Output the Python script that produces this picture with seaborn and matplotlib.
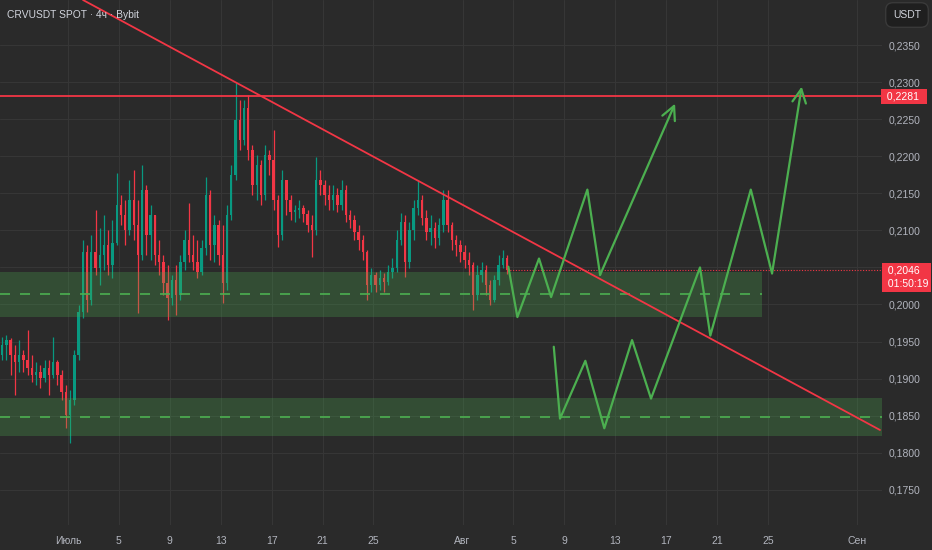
import numpy as np
import pandas as pd
import matplotlib
matplotlib.use('Agg')
import matplotlib.pyplot as plt
import seaborn as sns

# свечи 8ч, значения (CRVUSDT, Bybit)
first_open = 0.1932
closes = [0.1945, 0.1952, 0.1932, 0.1922, 0.1932, 0.1925, 0.1914, 0.1905, 0.1909, 0.1901,
          0.1914, 0.1905, 0.1922, 0.1905, 0.1882, 0.1851, 0.1871, 0.1932, 0.1990, 0.2071,
          0.2006, 0.2071, 0.2049, 0.2067, 0.2080, 0.2053, 0.2083, 0.2134, 0.2121, 0.2100,
          0.2141, 0.2107, 0.2067, 0.2154, 0.2094, 0.2121, 0.2067, 0.2057, 0.2029, 0.2009,
          0.2033, 0.2013, 0.2057, 0.2087, 0.2067, 0.2057, 0.2044, 0.2076, 0.2148, 0.2080,
          0.2107, 0.2067, 0.2029, 0.2121, 0.2175, 0.2249, 0.2222, 0.2265, 0.2208, 0.2161,
          0.2188, 0.2148, 0.2202, 0.2195, 0.2141, 0.2094, 0.2168, 0.2141, 0.2125, 0.2127,
          0.2130, 0.2122, 0.2107, 0.2100, 0.2168, 0.2161, 0.2148, 0.2141, 0.2148, 0.2134,
          0.2154, 0.2121, 0.2114, 0.2098, 0.2087, 0.2071, 0.2026, 0.2040, 0.2026, 0.2036,
          0.2031, 0.2044, 0.2049, 0.2087, 0.2111, 0.2057, 0.2100, 0.2130, 0.2141, 0.2117,
          0.2098, 0.2103, 0.2090, 0.2107, 0.2141, 0.2107, 0.2087, 0.2080, 0.2071, 0.2060,
          0.2053, 0.2013, 0.2040, 0.2047, 0.2026, 0.2006, 0.2033, 0.2053, 0.2063, 0.2046]
highs = [0.1956, 0.1959, 0.1955, 0.1945, 0.1952, 0.1939, 0.1966, 0.1932, 0.1922, 0.1918,
         0.1925, 0.1925, 0.1956, 0.1925, 0.1912, 0.1892, 0.1885, 0.1939, 0.1999, 0.2087,
         0.2080, 0.2094, 0.2127, 0.2103, 0.2121, 0.2100, 0.2114, 0.2177, 0.2148, 0.2141,
         0.2168, 0.2181, 0.2141, 0.2188, 0.2161, 0.2134, 0.2107, 0.2087, 0.2067, 0.2053,
         0.2040, 0.2053, 0.2067, 0.2100, 0.2137, 0.2094, 0.2087, 0.2087, 0.2172, 0.2154,
         0.2121, 0.2114, 0.2107, 0.2134, 0.2188, 0.2299, 0.2276, 0.2276, 0.2283, 0.2215,
         0.2202, 0.2195, 0.2215, 0.2208, 0.2235, 0.2148, 0.2181, 0.2161, 0.2148, 0.2134,
         0.2141, 0.2134, 0.2127, 0.2121, 0.2199, 0.2181, 0.2168, 0.2161, 0.2161, 0.2157,
         0.2168, 0.2161, 0.2127, 0.2121, 0.2107, 0.2094, 0.2074, 0.2049, 0.2044, 0.2047,
         0.2043, 0.2053, 0.2063, 0.2100, 0.2123, 0.2121, 0.2111, 0.2141, 0.2168, 0.2148,
         0.2127, 0.2121, 0.2111, 0.2117, 0.2154, 0.2154, 0.2111, 0.2094, 0.2087, 0.2080,
         0.2071, 0.2057, 0.2053, 0.2057, 0.2053, 0.2033, 0.2040, 0.2067, 0.2074, 0.2067]
lows = [0.1925, 0.1925, 0.1905, 0.1878, 0.1909, 0.1909, 0.1905, 0.1896, 0.1892, 0.1888,
        0.1896, 0.1878, 0.1901, 0.1892, 0.1871, 0.1833, 0.1813, 0.1865, 0.1925, 0.1982,
        0.1990, 0.1999, 0.2040, 0.2026, 0.2047, 0.2040, 0.2036, 0.2080, 0.2107, 0.2080,
        0.2094, 0.2087, 0.1989, 0.2060, 0.2067, 0.2060, 0.2053, 0.2040, 0.2013, 0.1979,
        0.1999, 0.1986, 0.2006, 0.2047, 0.2057, 0.2047, 0.2036, 0.2040, 0.2067, 0.2060,
        0.2057, 0.2053, 0.2002, 0.2020, 0.2114, 0.2168, 0.2208, 0.2215, 0.2195, 0.2148,
        0.2141, 0.2134, 0.2141, 0.2175, 0.2127, 0.2078, 0.2087, 0.2121, 0.2114, 0.2111,
        0.2117, 0.2111, 0.2098, 0.2064, 0.2094, 0.2148, 0.2134, 0.2127, 0.2127, 0.2125,
        0.2127, 0.2111, 0.2103, 0.2087, 0.2074, 0.2060, 0.2006, 0.2017, 0.2017, 0.2020,
        0.2017, 0.2026, 0.2036, 0.2044, 0.2080, 0.2037, 0.2049, 0.2087, 0.2121, 0.2107,
        0.2087, 0.2080, 0.2076, 0.2080, 0.2098, 0.2098, 0.2074, 0.2066, 0.2057, 0.2049,
        0.2040, 0.1993, 0.2006, 0.2031, 0.2013, 0.1999, 0.2003, 0.2026, 0.2049, 0.2041]
start_day = -5.17        # дни от 1 июля
candle_step = 1 / 3      # 8 часов

tick_days = [0, 4, 8, 12, 16, 20, 24, 31, 35, 39, 43, 47, 51, 55, 62]
tick_labels = ['Июль', '5', '9', '13', '17', '21', '25', 'Авг', '5', '9', '13', '17', '21', '25', 'Сен']
price_ticks = [0.1750, 0.1800, 0.1850, 0.1900, 0.1950, 0.2000, 0.2050,
               0.2100, 0.2150, 0.2200, 0.2250, 0.2300, 0.2350]

resistance = 0.2281
last_price = 0.2046
timer = '01:50:19'

trend_days = [1.18, 63.8]
trend_prices = [0.24108, 0.18307]

zone_up = [0.19835, 0.20443]
zone_up_mid = 0.20138
zone_up_end = 54.5
zone_low = [0.18226, 0.18743]
zone_low_mid = 0.18486

path_a_days = [34.60, 35.31, 37.01, 37.96, 40.81, 41.81, 47.70]
path_a_prices = [0.2051, 0.1983, 0.2062, 0.2010, 0.2155, 0.2040, 0.2271]
path_b_days = [38.17, 38.66, 40.65, 42.14, 44.32, 45.81, 49.66, 50.47, 53.65, 55.32, 57.65]
path_b_prices = [0.1943, 0.1846, 0.1924, 0.1833, 0.1952, 0.1873, 0.2050, 0.1958, 0.2155, 0.2042, 0.2294]

bg = '#2a2a2a'
grid_c = '#363636'
up_c = '#089981'
down_c = '#f23645'
green = '#4caf50'
text_c = '#b2b5be'

sns.set_theme(style='dark', rc={'axes.facecolor': bg, 'figure.facecolor': bg})
plt.rcParams['font.family'] = ['Liberation Sans', 'DejaVu Sans']

fig = plt.figure(figsize=(9.32, 5.5), dpi=100)
ax = fig.add_axes([0, 25 / 550, 882 / 932, 525 / 550])
ax.set_xlim(-5.343, 63.96)
ax.set_ylim(0.17025, 0.24108)

for d in tick_days:
    ax.axvline(d, color=grid_c, lw=0.8, zorder=0)
for p in price_ticks:
    ax.axhline(p, color=grid_c, lw=0.8, zorder=0)

df = pd.DataFrame({'close': closes, 'high': highs, 'low': lows})
df['open'] = [first_open] + closes[:-1]
df['day'] = start_day + np.arange(len(df)) * candle_step
df['up'] = df['close'] >= df['open']
df['color'] = np.where(df['up'], up_c, down_c)
top = df[['open', 'close', 'high']].max(axis=1)
bot = df[['open', 'close', 'low']].min(axis=1)

ax.vlines(df['day'], bot, top, colors=df['color'], lw=0.9, zorder=2)
body_lo = df[['open', 'close']].min(axis=1)
body_h = (df['close'] - df['open']).abs().clip(lower=0.00006)
ax.bar(df['day'], body_h, bottom=body_lo, width=0.19, color=df['color'], linewidth=0, zorder=3)

# зоны
ax.fill_between([-5.343, zone_up_end], zone_up[0], zone_up[1], color=green, alpha=0.27, lw=0, zorder=4)
ax.plot([-5.343, zone_up_end], [zone_up_mid, zone_up_mid], color=green, lw=1.2, ls=(0, (6, 6)), zorder=4)
ax.fill_between([-5.343, 63.96], zone_low[0], zone_low[1], color=green, alpha=0.27, lw=0, zorder=4)
ax.plot([-5.343, 63.96], [zone_low_mid, zone_low_mid], color=green, lw=1.2, ls=(0, (6, 6)), zorder=4)

# линии
ax.axhline(resistance, color=down_c, lw=1.3, zorder=5)
ax.plot(trend_days, trend_prices, color=down_c, lw=1.3, zorder=5)
ax.plot([df['day'].iloc[-1], 63.96], [last_price, last_price], color=down_c, lw=0.8, ls=(0, (1, 1.5)), zorder=5)

# сценарии
for days, prices in [(path_a_days, path_a_prices), (path_b_days, path_b_prices)]:
    sns.lineplot(x=days[:-1], y=prices[:-1], sort=False, estimator=None, color=green, lw=1.6, ax=ax, zorder=6)
    ax.annotate('', xy=(days[-1], prices[-1]), xytext=(days[-2], prices[-2]),
                arrowprops=dict(arrowstyle='->,head_length=0.7,head_width=0.35', color=green, lw=1.6,
                                shrinkA=0, shrinkB=0, mutation_scale=14), zorder=6)

for s in ax.spines.values():
    s.set_visible(False)
ax.set_xticks(tick_days)
ax.set_xticklabels(tick_labels)
ax.set_yticks(price_ticks)
# 0,2050 закрыта плашкой текущей цены
ax.set_yticklabels(['' if p == 0.2050 else ('%.4f' % p).replace('.', ',') for p in price_ticks])
ax.yaxis.tick_right()
ax.tick_params(axis='both', length=0, colors=text_c, labelsize=7.5)
ax.tick_params(axis='x', pad=8)
ax.tick_params(axis='y', pad=5)
ax.set_xlabel('')
ax.set_ylabel('')

# подписи цены на шкале
ytr = ax.get_yaxis_transform()
ax.text(1.002, resistance, ' ' + ('%.4f' % resistance).replace('.', ',') + '  ', transform=ytr, ha='left',
        va='center', color='white', fontsize=7.5, zorder=10, clip_on=False,
        bbox=dict(boxstyle='square,pad=0.25', fc=down_c, ec='none'))
ax.text(1.003, last_price + 0.0006, ' ' + ('%.4f' % last_price).replace('.', ',') + '\n ' + timer,
        transform=ytr, ha='left', va='top', color='white', fontsize=7.5, linespacing=1.4, zorder=10,
        clip_on=False, bbox=dict(boxstyle='square,pad=0.3', fc=down_c, ec='none'))

fig.text(7 / 932, 1 - 15 / 550, 'CRVUSDT SPOT · 4ч · Bybit', color='#d1d4dc', fontsize=7.4, va='center')
fig.text(907 / 932, 1 - 15 / 550, 'USDT', color='#d1d4dc', fontsize=7.5, ha='center', va='center',
         bbox=dict(boxstyle='round,pad=0.7', fc='#1f1f1f', ec='#3a3a3a'))

fig.savefig('out.png', dpi=100, facecolor=bg)
